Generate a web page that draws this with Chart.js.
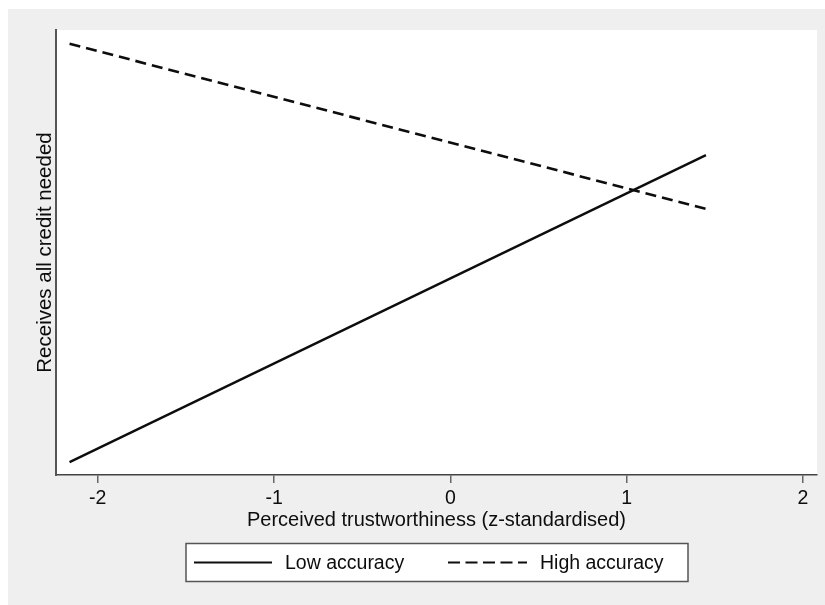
<!DOCTYPE html>
<html>
<head>
<meta charset="utf-8">
<script src="https://cdn.jsdelivr.net/npm/chart.js@4/dist/chart.umd.min.js"></script>
<style>
  html, body { margin: 0; padding: 0; background: #ffffff; }
  #wrap { position: absolute; left: 8px; top: 9px; width: 817px; height: 596px; }
  canvas { display: block; }
</style>
</head>
<body>
<div id="wrap"><canvas id="c" width="817" height="596"></canvas></div>
<script>
// ---- data ----
const xValues = [-2.16, 1.45];          // perceived trustworthiness (z) at line ends
const lowAccuracy = [2.9, 71.9];        // predicted value, low accuracy (relative units)
const highAccuracy = [96.9, 59.8];      // predicted value, high accuracy (relative units)
const seriesLabels = ['Low accuracy', 'High accuracy'];
const xTicks = [-2, -1, 0, 1, 2];
const xTitle = 'Perceived trustworthiness (z-standardised)';
const yTitle = 'Receives all credit needed';

const FONT = "'Liberation Sans', Arial, Helvetica, sans-serif";

const bgPlugin = {
  id: 'bg',
  beforeDraw(chart) {
    const {ctx, chartArea: a} = chart;
    ctx.save();
    ctx.fillStyle = '#efefef';
    ctx.fillRect(0, 0, chart.width, chart.height);
    ctx.fillStyle = '#ffffff';
    ctx.fillRect(a.left, a.top, a.right - a.left, a.bottom - a.top);
    ctx.restore();
  }
};

const legendPlugin = {
  id: 'boxLegend',
  afterDraw(chart) {
    const {ctx} = chart;
    const box = {x: 178, y: 534.5, w: 502, h: 38};
    ctx.save();
    ctx.fillStyle = '#ffffff';
    ctx.fillRect(box.x, box.y, box.w, box.h);
    ctx.strokeStyle = '#555555';
    ctx.lineWidth = 1.5;
    ctx.strokeRect(box.x, box.y, box.w, box.h);
    const cy = box.y + box.h / 2;
    const items = [
      {x0: 186, x1: 264, tx: 277},
      {x0: 440, x1: 519, tx: 532}
    ];
    chart.data.datasets.forEach((ds, i) => {
      const it = items[i];
      ctx.beginPath();
      ctx.strokeStyle = ds.borderColor;
      ctx.lineWidth = 1.8;
      ctx.setLineDash(ds.borderDash ? [12, 5.5] : []);
      ctx.moveTo(it.x0, cy);
      ctx.lineTo(it.x1, cy);
      ctx.stroke();
      ctx.setLineDash([]);
      ctx.fillStyle = '#0d0d0d';
      ctx.font = '19.5px ' + FONT;
      ctx.textBaseline = 'middle';
      ctx.textAlign = 'left';
      ctx.fillText(ds.label, it.tx, cy + 1);
    });
    ctx.restore();
  }
};

const toPts = ys => xValues.map((x, i) => ({x, y: ys[i]}));

new Chart(document.getElementById('c'), {
  type: 'scatter',
  data: {
    datasets: [
      {
        label: seriesLabels[0],
        data: toPts(lowAccuracy),
        showLine: true,
        borderColor: '#0d0d0d',
        borderWidth: 2.4,
        pointRadius: 0,
        fill: false
      },
      {
        label: seriesLabels[1],
        data: toPts(highAccuracy),
        showLine: true,
        borderColor: '#0d0d0d',
        borderWidth: 2.6,
        borderDash: [11, 6],
        pointRadius: 0,
        fill: false
      }
    ]
  },
  options: {
    responsive: false,
    animation: false,
    layout: { padding: { left: 0, top: 21, right: 8, bottom: 70 } },
    plugins: {
      legend: { display: false },
      tooltip: { enabled: false }
    },
    scales: {
      x: {
        type: 'linear',
        min: -2.237,
        max: 2.08,
        afterBuildTicks: s => { s.ticks = xTicks.map(v => ({value: v})); },
        afterFit: s => { s.height = 60; },
        ticks: {
          color: '#0d0d0d',
          font: { size: 19.5, family: FONT },
          padding: 4,
          maxRotation: 0,
          callback: v => String(v)
        },
        grid: {
          display: true,
          drawOnChartArea: false,
          drawTicks: true,
          tickLength: 8,
          color: '#666666',
          lineWidth: 1.5
        },
        border: { display: true, color: '#444444', width: 1.5 },
        title: {
          display: true,
          text: xTitle,
          color: '#0d0d0d',
          font: { size: 20, family: FONT },
          padding: { top: 0, bottom: 3 }
        }
      },
      y: {
        type: 'linear',
        min: 0,
        max: 100,
        afterFit: s => { s.width = 48; },
        ticks: { display: false },
        grid: { display: false, drawTicks: false },
        border: { display: true, color: '#555555', width: 2 },
        title: {
          display: true,
          text: yTitle,
          color: '#0d0d0d',
          font: { size: 20.5, family: FONT },
          padding: { top: 25, bottom: 0 }
        }
      }
    }
  },
  plugins: [bgPlugin, legendPlugin]
});
</script>
</body>
</html>
